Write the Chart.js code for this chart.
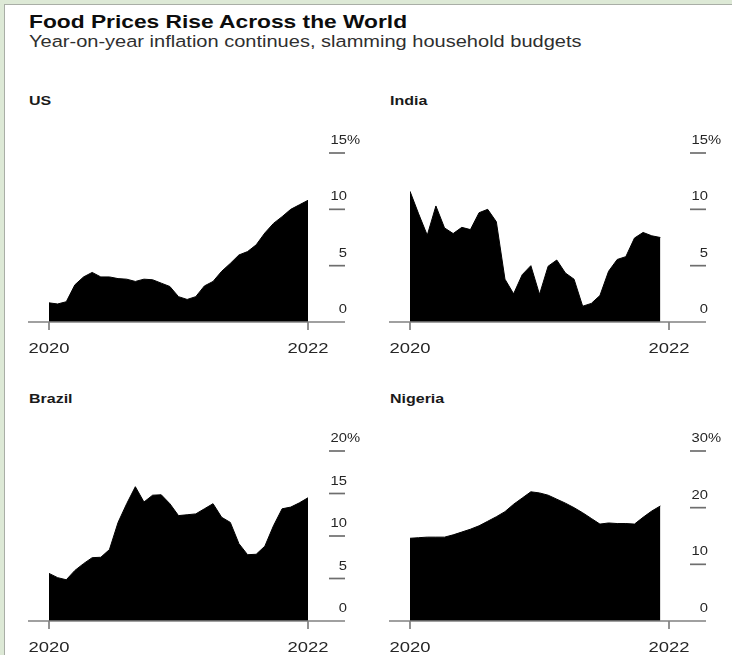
<!DOCTYPE html>
<html lang="en">
<head>
  <meta charset="UTF-8" />
  <title>Food Prices Rise Across the World</title>
  <script src="https://cdn.jsdelivr.net/npm/chart.js"></script>
  <style>
    body {
      margin: 0;
      width: 732px;
      height: 655px;
      overflow: hidden;
      position: relative;
      background: #dde9d6;
      font-family: "Liberation Sans", Arial, sans-serif;
    }
    .frame {
      position: absolute;
      left: 4px;
      top: 4px;
      right: 0;
      bottom: 0;
      background: #fff;
      border-left: 1.5px solid #a9aea6;
      border-top: 1.5px solid #a9aea6;
    }
    .txt {
      position: absolute;
      white-space: nowrap;
      transform-origin: 0 0;
      transform: scaleX(1.23);
    }
    .title {
      left: 29px;
      top: 12.6px;
      font-size: 18.5px;
      line-height: 18.5px;
      font-weight: bold;
      color: #0d0d0d;
    }
    .subtitle {
      left: 29px;
      top: 32.6px;
      font-size: 16.3px;
      line-height: 16.3px;
      color: #2f2f2f;
    }
    .panel-title {
      font-size: 13px;
      line-height: 13px;
      font-weight: bold;
      color: #1a1a1a;
    }
    canvas {
      position: absolute;
    }
  </style>
</head>
<body>
  <div class="frame"></div>
  <div class="txt title">Food Prices Rise Across the World</div>
  <div class="txt subtitle">Year-on-year inflation continues, slamming household budgets</div>

  <div class="txt panel-title" id="t0" style="left:29px; top:93.5px"></div>
  <div class="txt panel-title" id="t1" style="left:390px; top:93.5px"></div>
  <div class="txt panel-title" id="t2" style="left:29px; top:392px"></div>
  <div class="txt panel-title" id="t3" style="left:390px; top:392px"></div>

  <canvas id="c0" width="360" height="250" style="left:10px; top:120px"></canvas>
  <canvas id="c1" width="360" height="250" style="left:371px; top:120px"></canvas>
  <canvas id="c2" width="360" height="237" style="left:10px; top:418px"></canvas>
  <canvas id="c3" width="360" height="237" style="left:371px; top:418px"></canvas>

  <script>
    // horizontal stretch of the Bloomberg-style lettering
    const SX = 1.23;

    const panelNames = ['US', 'India', 'Brazil', 'Nigeria'];

    // months from the first reading; axis labelled at both ends
    const xTickMonths = [0, 30];
    const xTickLabels = ['2020', '2022'];

    // food inflation, % y/y, one value per month
    const usInflation = [1.7, 1.6, 1.8, 3.3, 4.0, 4.4, 4.0, 4.0, 3.85, 3.8, 3.6, 3.8, 3.75, 3.45, 3.15, 2.25,
      2.0, 2.25, 3.2, 3.6, 4.5, 5.2, 5.95, 6.25, 6.85, 7.9, 8.75, 9.35, 10.0, 10.4, 10.8];
    const indiaInflation = [11.6, 9.6, 7.7, 10.3, 8.35, 7.85, 8.4, 8.2, 9.7, 10.0, 8.9, 3.8, 2.5, 4.2, 5.0,
      2.45, 4.95, 5.5, 4.35, 3.8, 1.4, 1.65, 2.35, 4.5, 5.55, 5.8, 7.45, 7.95, 7.65, 7.5];
    const brazilInflation = [5.6, 5.1, 4.85, 5.95, 6.75, 7.45, 7.5, 8.4, 11.6, 13.8, 15.8, 14.0, 14.8, 14.85,
      13.8, 12.4, 12.5, 12.6, 13.2, 13.8, 12.2, 11.6, 9.1, 7.8, 7.85, 8.8, 11.2, 13.2, 13.4, 13.9, 14.5];
    const nigeriaInflation = [14.6, 14.7, 14.8, 14.8, 14.8, 15.2, 15.7, 16.2, 16.8, 17.6, 18.4, 19.3, 20.6,
      21.7, 22.8, 22.6, 22.2, 21.5, 20.8, 20.0, 19.1, 18.1, 17.1, 17.3, 17.2, 17.2, 17.1, 18.3, 19.4, 20.3];

    const usTicks = [0, 5, 10, 15];
    const indiaTicks = [0, 5, 10, 15];
    const brazilTicks = [0, 5, 10, 15, 20];
    const nigeriaTicks = [0, 10, 20, 30];

    const FONT = '"Liberation Sans", Arial, sans-serif';

    function stretchedText(ctx, str, x, y, align) {
      ctx.save();
      ctx.translate(x, y);
      ctx.scale(SX, 1);
      ctx.textAlign = align;
      ctx.fillText(str, 0, 0);
      ctx.restore();
    }

    function segment(ctx, x1, y1, x2, y2) {
      ctx.beginPath();
      ctx.moveTo(x1, y1);
      ctx.lineTo(x2, y2);
      ctx.stroke();
    }

    // baseline, year ticks and the short value ticks on the right
    const panelAxes = {
      id: 'panelAxes',
      afterDatasetsDraw(chart, args, opts) {
        const { ctx, chartArea: area, scales: { x, y } } = chart;
        const base = y.getPixelForValue(0);
        ctx.save();
        ctx.strokeStyle = '#808080';
        ctx.lineWidth = 1.7;
        segment(ctx, area.left - 21, base, area.right + 37, base);

        ctx.fillStyle = '#262626';
        ctx.textBaseline = 'alphabetic';
        ctx.font = '15px ' + FONT;
        xTickMonths.forEach((m, i) => {
          const px = x.getPixelForValue(m);
          segment(ctx, px, base, px, base + 8);
          stretchedText(ctx, xTickLabels[i], px, base + 31, 'center');
        });

        ctx.strokeStyle = '#6e6e6e';
        ctx.font = '12px ' + FONT;
        opts.ticks.forEach((t, i) => {
          const py = y.getPixelForValue(t);
          if (t !== 0) segment(ctx, area.right + 21, py, area.right + 37, py);
          stretchedText(ctx, String(t), area.right + 39, py - 9, 'right');
          if (i === opts.ticks.length - 1) stretchedText(ctx, '%', area.right + 39, py - 9, 'left');
        });
        ctx.restore();
      }
    };

    function drawPanel(idx, values, ticks, bottomPad) {
      document.getElementById('t' + idx).textContent = panelNames[idx];
      new Chart(document.getElementById('c' + idx), {
        type: 'line',
        data: {
          datasets: [{
            data: values.map((v, i) => ({ x: i, y: v })),
            fill: 'origin',
            backgroundColor: '#000',
            borderColor: '#000',
            borderWidth: 1,
            pointRadius: 0,
            tension: 0
          }]
        },
        options: {
          responsive: false,
          animation: false,
          layout: { padding: { left: 39, right: 62, top: 33, bottom: bottomPad } },
          plugins: {
            legend: { display: false },
            tooltip: { enabled: false },
            panelAxes: { ticks: ticks }
          },
          scales: {
            x: { type: 'linear', min: xTickMonths[0], max: xTickMonths[1], display: false },
            y: { min: 0, max: ticks[ticks.length - 1], display: false }
          }
        },
        plugins: [panelAxes]
      });
    }

    drawPanel(0, usInflation, usTicks, 48);
    drawPanel(1, indiaInflation, indiaTicks, 48);
    drawPanel(2, brazilInflation, brazilTicks, 34);
    drawPanel(3, nigeriaInflation, nigeriaTicks, 34);
  </script>
</body>
</html>
